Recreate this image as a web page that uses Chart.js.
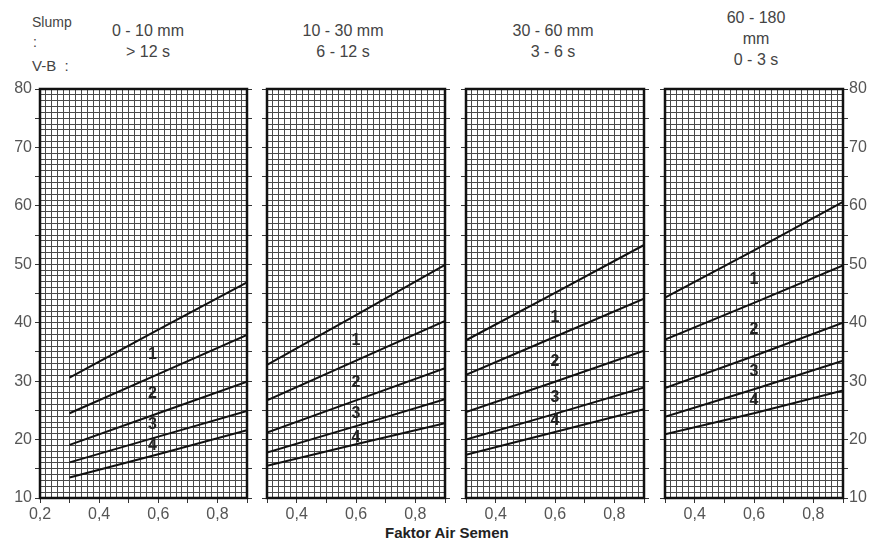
<!DOCTYPE html>
<html>
<head>
<meta charset="utf-8">
<script src="https://cdn.jsdelivr.net/npm/chart.js@4.4.1/dist/chart.umd.min.js"></script>
<style>
body { margin:0; background:#fff; width:874px; height:543px; position:relative; overflow:hidden; font-family:"Liberation Sans", Arial, sans-serif; color:#444; }
canvas { position:absolute; top:0; }
.t { position:absolute; font-size:16px; white-space:nowrap; line-height:20px; }
.c { transform:translateX(-50%); text-align:center; }
</style>
</head>
<body>
<div class="t" style="left:32px;top:12px;font-size:14px">Slump</div>
<div class="t" style="left:33px;top:32px;font-size:14px">:</div>
<div class="t" style="left:32px;top:56px;font-size:15px">V-B &nbsp;:</div>
<div id="titles"></div>
<div class="t" style="left:385px;top:523px;font-size:15px;font-weight:bold;color:#222">Faktor Air Semen</div>

<canvas id="p0"></canvas>
<canvas id="p1"></canvas>
<canvas id="p2"></canvas>
<canvas id="p3"></canvas>

<script>
// slump / V-B class headings per panel
const panelTitles = [
    ["0 - 10 mm", "> 12 s"],
    ["10 - 30 mm", "6 - 12 s"],
    ["30 - 60 mm", "3 - 6 s"],
    ["60 - 180", "mm", "0 - 3 s"]
];

// water/cement ratio where the curves are read
const fasPoints = [0.3, 0.6, 0.9];

// strength (N/mm2) curves, top to bottom, per panel
const panel1Lines = [
    [30.6, 38.8, 46.9],
    [24.5, 31.2, 37.9],
    [19.1, 24.5, 29.9],
    [16.1, 20.5, 24.9],
    [13.5, 17.5, 21.6]
];
const panel2Lines = [
    [32.8, 41.3, 49.9],
    [26.7, 33.5, 40.3],
    [21.2, 26.7, 32.2],
    [17.8, 22.3, 26.9],
    [15.5, 19.2, 22.8]
];
const panel3Lines = [
    [37.0, 45.1, 53.3],
    [31.1, 37.6, 44.1],
    [24.7, 29.9, 35.2],
    [20.0, 24.4, 28.9],
    [17.4, 21.3, 25.2]
];
const panel4Lines = [
    [44.3, 52.4, 60.7],
    [37.1, 43.4, 49.8],
    [28.8, 34.3, 40.0],
    [23.9, 28.6, 33.5],
    [20.9, 24.5, 28.4]
];

// zone numbers 1-4 sitting between the curves
const zoneNames = ["1", "2", "3", "4"];
const zoneX = [0.58, 0.6, 0.6, 0.6];
const zoneY = [
    [34.5, 27.8, 22.5, 18.9],
    [37.0, 29.7, 24.5, 20.3],
    [40.8, 33.3, 27.1, 23.2],
    [47.3, 38.8, 31.6, 26.6]
];

const xMins = [0.2, 0.3, 0.3, 0.3];
const xMax = 0.9;
const yMin = 10, yMax = 80;

const allLines = [panel1Lines, panel2Lines, panel3Lines, panel4Lines];

// canvas placement (left, width) so the plot boxes land where the original has them
const boxes = [[0, 253], [261, 190], [460, 190], [659, 216]];
const titleCenters = [148, 343, 553, 756];

// headings
let titleHtml = "";
panelTitles.forEach((lines, i) => {
    let top = lines.length === 3 ? 8 : 21;
    lines.forEach((txt, k) => {
        titleHtml += `<div class="t c" style="left:${titleCenters[i]}px;top:${top + k * 21}px">${txt.replace(">", "&gt;")}</div>`;
    });
});
document.getElementById("titles").innerHTML = titleHtml;

const framePlugin = {
    id: "frame",
    afterDatasetsDraw(chart) {
        const a = chart.chartArea, ctx = chart.ctx;
        ctx.save();
        ctx.strokeStyle = "#111";
        ctx.lineWidth = 2.5;
        ctx.strokeRect(a.left, a.top, a.right - a.left, a.bottom - a.top);
        ctx.restore();
    }
};

const zonePlugin = {
    id: "zones",
    afterDatasetsDraw(chart, args, opts) {
        const ctx = chart.ctx;
        const xs = chart.scales.x, ys = chart.scales.y;
        ctx.save();
        ctx.font = "bold 16px 'Liberation Sans', Arial, sans-serif";
        ctx.fillStyle = "#222";
        ctx.textAlign = "center";
        ctx.textBaseline = "middle";
        zoneNames.forEach((name, k) => {
            ctx.fillText(name, xs.getPixelForValue(zoneX[opts.panel]), ys.getPixelForValue(zoneY[opts.panel][k]));
        });
        ctx.restore();
    }
};

function makePanel(i) {
    const canvas = document.getElementById("p" + i);
    canvas.style.left = boxes[i][0] + "px";
    canvas.width = boxes[i][1];
    canvas.height = 543;
    canvas.style.width = boxes[i][1] + "px";
    canvas.style.height = "543px";

    const first = i === 0, last = i === 3;
    const tickFont = { family: "'Liberation Sans', Arial, sans-serif", size: 16 };

    const yAxis = (side, showLabels, onArea, width) => ({
        type: "linear",
        position: side,
        min: yMin,
        max: yMax,
        border: { display: false },
        grid: {
            drawOnChartArea: onArea,
            color: "#4a4a4a",
            lineWidth: 1,
            tickLength: 5,
            tickColor: c => c.tick && Math.round(c.tick.value) % 5 === 0 ? "#333" : "rgba(0,0,0,0)"
        },
        ticks: {
            stepSize: 1,
            autoSkip: false,
            padding: side === "left" ? 3 : 1,
            color: "#555",
            font: tickFont,
            callback: v => showLabels && Math.round(v) % 10 === 0 ? String(Math.round(v)) : ""
        },
        afterFit: s => { s.width = width; }
    });

    new Chart(canvas, {
        type: "line",
        data: {
            datasets: allLines[i].map(vals => ({
                data: fasPoints.map((x, k) => ({ x: x, y: vals[k] })),
                borderColor: "#111",
                borderWidth: 2,
                pointRadius: 0,
                tension: 0
            }))
        },
        options: {
            responsive: false,
            animation: false,
            events: [],
            layout: { padding: { top: 89, left: 0, right: 0, bottom: 0 } },
            plugins: { legend: { display: false }, tooltip: { enabled: false }, zones: { panel: i } },
            scales: {
                x: {
                    type: "linear",
                    min: xMins[i],
                    max: xMax,
                    border: { display: false },
                    grid: {
                        color: "#4a4a4a",
                        lineWidth: 1,
                        tickLength: 5,
                        tickColor: c => c.tick && Math.round(c.tick.value * 100) % 10 === 0 ? "#333" : "rgba(0,0,0,0)"
                    },
                    ticks: {
                        stepSize: 0.02,
                        autoSkip: false,
                        maxRotation: 0,
                        padding: 2,
                        color: "#555",
                        font: tickFont,
                        callback: v => {
                            let h = Math.round(v * 100);
                            return h % 20 === 0 && h < 90 ? (h / 100).toFixed(1).replace(".", ",") : "";
                        }
                    },
                    afterFit: s => { s.height = 45; }
                },
                y: yAxis("left", first, true, first ? 40 : 6),
                y2: yAxis("right", last, false, last ? 32 : 6)
            }
        },
        plugins: [framePlugin, zonePlugin]
    });
}

[0, 1, 2, 3].forEach(makePanel);
</script>
</body>
</html>
